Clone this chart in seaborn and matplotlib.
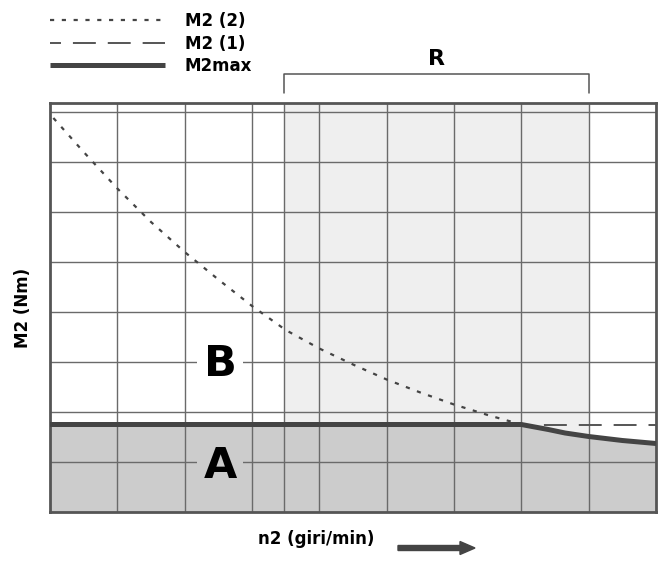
import matplotlib
matplotlib.use("Agg")
import matplotlib.pyplot as plt
from matplotlib.patches import FancyArrow
import seaborn as sns
import numpy as np
import pandas as pd

# ---- data ----
m2_2_x = [0.05, 0.5, 1.0, 1.5, 2.0, 2.5, 3.0, 3.5, 4.0, 4.5, 5.0, 5.5, 6.0, 6.5, 7.0]
m2_2_y = [7.88, 7.20, 6.47, 5.80, 5.20, 4.65, 4.12, 3.64, 3.27, 2.95, 2.65, 2.39, 2.15, 1.94, 1.75]
m2_1_x = [7.0, 9.0]
m2_1_y = [1.75, 1.75]
m2max_x = [0.0, 7.0, 7.2, 7.4, 7.65, 8.0, 8.5, 9.0]
m2max_y = [1.75, 1.75, 1.70, 1.65, 1.58, 1.51, 1.43, 1.37]
r_range = [3.48, 8.0]
grid_x = [1, 2, 3, 3.48, 4, 5, 6, 7, 8]
grid_y = [1, 2, 3, 4, 5, 6, 7, 8]
x_lim = [0, 9]
y_lim = [0, 8.18]
labels = ["M2 (2)", "M2 (1)", "M2max"]
region_labels = [("B", 2.53, 2.97), ("A", 2.53, 0.91)]

sns.set_style("white")
plt.rcParams["font.family"] = ["DejaVu Sans"]
plt.rcParams["lines.scale_dashes"] = False
plt.rcParams["text.color"] = "black"
plt.rcParams["axes.labelcolor"] = "black"

fig = plt.figure(figsize=(6.59, 5.61), dpi=100)
ax = fig.add_axes([50 / 659, 49 / 561, 606 / 659, 409 / 561])

# regions
ax.axvspan(r_range[0], r_range[1], color="#efefef", zorder=0.1, lw=0)
ax.fill_between(m2max_x, 0, m2max_y, color="#cccccc", zorder=0.2, lw=0)

# series
d2 = pd.DataFrame({"x": m2_2_x, "y": m2_2_y})
d1 = pd.DataFrame({"x": m2_1_x, "y": m2_1_y})
dm = pd.DataFrame({"x": m2max_x, "y": m2max_y})
sns.lineplot(data=d2, x="x", y="y", ax=ax, color="#444444", lw=1.6,
             linestyle=(0, (3.0, 5.5)), label=labels[0], zorder=4)
sns.lineplot(data=d1, x="x", y="y", ax=ax, color="#555555", lw=1.4,
             linestyle=(8.6, (16.5, 8.6)), label=labels[1], zorder=3)
sns.lineplot(data=dm, x="x", y="y", ax=ax, color="#444444", lw=3.6,
             label=labels[2], zorder=5, solid_capstyle="butt")

ax.set_xlim(*x_lim)
ax.set_ylim(*y_lim)
ax.set_xticks(grid_x)
ax.set_yticks(grid_y)
ax.tick_params(length=0, labelbottom=False, labelleft=False)
ax.set_axisbelow(True)
ax.grid(True, color="#6a6a6a", lw=1.0)
for s in ax.spines.values():
    s.set_color("#555555")
    s.set_linewidth(2.0)
    s.set_visible(True)

# region letters
bgcols = {"B": "white", "A": "#cccccc"}
for t, x, y in region_labels:
    ax.text(x, y, t, fontsize=31, fontweight="bold", ha="center", va="center",
            color="black", zorder=3,
            bbox=dict(boxstyle="square,pad=0.15", fc=bgcols[t], ec="none"))

# R bracket
ax.plot([r_range[0], r_range[0], r_range[1], r_range[1]], [8.39, 8.76, 8.76, 8.39],
        color="#555555", lw=1.1, clip_on=False)
ax.text((r_range[0] + r_range[1]) / 2, 9.06, "R", fontsize=16, fontweight="bold",
        ha="center", va="center", clip_on=False)

# labels
ax.set_xlabel("n2 (giri/min)", fontsize=12, fontweight="bold")
ax.xaxis.set_label_coords(0.439, -0.044)
ax.set_ylabel("M2 (Nm)", fontsize=12, fontweight="bold")
ax.yaxis.set_label_coords(-0.029, 0.5)

arrow = FancyArrow(3.98, 0.13, 0.77, 0, width=0.05, head_width=0.13, head_length=0.15,
                   length_includes_head=True, color="#444444",
                   transform=fig.dpi_scale_trans)
fig.add_artist(arrow)

# legend
h, l = ax.get_legend_handles_labels()
leg = ax.legend(h, l, loc="upper left", bbox_to_anchor=(50 / 659, 1 - 12 / 561),
                bbox_transform=fig.transFigure, frameon=False, borderpad=0,
                borderaxespad=0, handlelength=6.9, handletextpad=1.2, labelspacing=0.28,
                prop={"weight": "bold", "size": 12})
for t in leg.get_texts():
    t.set_color("black")

fig.savefig("out.png", dpi=100)
